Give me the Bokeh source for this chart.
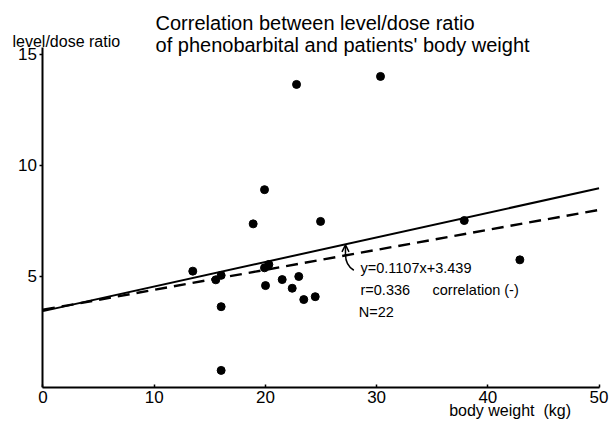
import numpy as np
from bokeh.plotting import figure
from bokeh.models import Range1d, Label, Arrow, OpenHead, FixedTicker, LinearAxis
from bokeh.core.properties import value
from bokeh.embed import file_html
from bokeh.resources import INLINE

# --- data ---
body_weight = [22.80, 30.35, 19.92, 18.90, 24.96, 13.47, 15.54, 16.02, 16.02, 16.02,
               20.31, 19.92, 20.01, 21.51, 23.00, 22.41, 23.45, 24.48, 37.88, 42.88]
level_dose = [13.65, 14.01, 8.91, 7.37, 7.48, 5.24, 4.85, 5.05, 3.64, 0.77,
              5.54, 5.39, 4.59, 4.86, 5.00, 4.47, 3.96, 4.09, 7.52, 5.75]
fit_slope, fit_intercept = 0.1107, 3.439      # solid regression line
alt_slope, alt_intercept = 0.090, 3.50        # dashed line
x_ticks = [0, 10, 20, 30, 40, 50]
y_ticks = [5, 10, 15]
x_title = "body weight\u00a0 (kg)"
y_title = "level/dose ratio"
title_lines = ["Correlation between level/dose ratio",
               "of phenobarbital and patients' body weight"]
stats_lines = ["y=0.1107x+3.439", "r=0.336", "correlation (-)", "N=22"]

FONT = "Liberation Sans"

p = figure(width=614, height=423, output_backend="svg", toolbar_location=None,
           x_range=Range1d(-3.10, 50.67), y_range=Range1d(0, 17.43),
           min_border_left=8, min_border_right=8, min_border_top=0,
           min_border_bottom=36)
p.grid.visible = False
p.outline_line_color = None
p.background_fill_color = "white"

xax = p.below[0]
yax = p.left[0]
for ax in (xax, yax):
    ax.axis_line_width = 2
    ax.axis_line_color = "black"
    ax.major_tick_line_width = 1.5
    ax.major_tick_line_color = "black"
    ax.minor_tick_line_color = None
    ax.major_label_text_font = FONT
    ax.major_label_text_font_size = "17px"
    ax.major_label_text_color = "black"

xax.ticker = FixedTicker(ticks=x_ticks)
xax.bounds = (0, 50)
xax.major_tick_in = 3
xax.major_tick_out = 0
xax.major_label_standoff = 3

yax.ticker = FixedTicker(ticks=y_ticks)
yax.fixed_location = 0
yax.bounds = (0, 15.3)
yax.major_tick_in = 0
yax.major_tick_out = 3
yax.major_label_standoff = 1
yax.major_label_overrides = {t: "" for t in y_ticks}

# x-axis title as a second (line-less) axis below the first
lab_axis = LinearAxis(ticker=FixedTicker(ticks=[42]),
                      major_label_overrides={42: x_title},
                      axis_line_color=None, major_tick_line_color=None,
                      minor_tick_line_color=None, major_label_standoff=-10,
                      major_label_text_font=FONT, major_label_text_font_size="16px",
                      major_label_text_color="black")
p.add_layout(lab_axis, "below")

# y tick labels
p.text(x=[-0.55] * len(y_ticks), y=y_ticks, text=[str(t) for t in y_ticks],
       text_align="right", text_baseline="middle", text_font=value(FONT),
       text_font_size="17px", text_color="black")

xs = np.array([0, 50])
p.line(xs, fit_slope * xs + fit_intercept, line_color="black", line_width=2)
p.line(xs, alt_slope * xs + alt_intercept, line_color="black", line_width=2.4,
       line_dash="12 7")

p.scatter(body_weight, level_dose, size=8, color="black")

# curved arrow between dashed and solid line
xa = 27.2
tip = fit_slope * xa + fit_intercept
p.quadratic(x0=[27.95], y0=[tip - 1.17], x1=[xa], y1=[tip - 0.45],
            cx=[xa], cy=[tip - 0.95], line_color="black", line_width=1.5)
p.add_layout(Arrow(end=OpenHead(size=7, line_width=1.5), x_start=xa, y_start=tip - 0.5,
                   x_end=xa, y_end=tip - 0.03, line_width=1.5))

def lab(x, y, t, size="14.5px"):
    p.add_layout(Label(x=x, y=y, text=t, text_font=FONT, text_font_size=size,
                       text_color="black", text_baseline="alphabetic"))

lab(28.55, 5.36, stats_lines[0])
lab(28.55, 4.41, stats_lines[1])
lab(35.03, 4.41, stats_lines[2])
lab(28.40, 3.38, stats_lines[3])

lab(10.12, 16.40, title_lines[0], size="20px")
lab(10.12, 15.41, title_lines[1], size="20px")
lab(-2.74, 15.59, y_title, size="16px")

open("out.html", "w").write(file_html(p, INLINE))
